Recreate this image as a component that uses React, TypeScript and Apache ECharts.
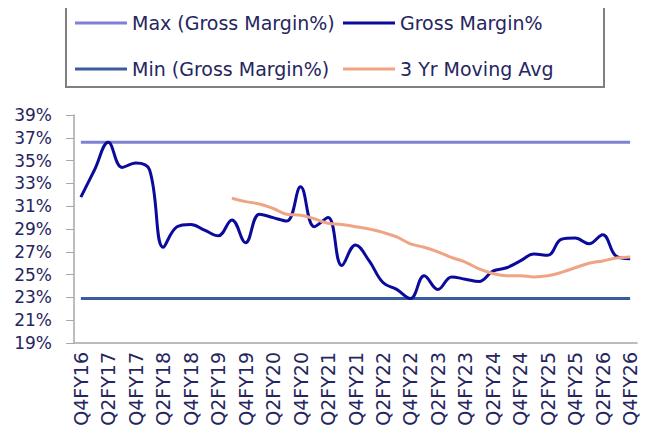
import React, { useEffect, useRef } from "react";
import * as echarts from "echarts";

const categories: string[] = [
  "Q4FY16", "Q1FY17", "Q2FY17", "Q3FY17", "Q4FY17",
  "Q1FY18", "Q2FY18", "Q3FY18", "Q4FY18",
  "Q1FY19", "Q2FY19", "Q3FY19", "Q4FY19",
  "Q1FY20", "Q2FY20", "Q3FY20", "Q4FY20",
  "Q1FY21", "Q2FY21", "Q3FY21", "Q4FY21",
  "Q1FY22", "Q2FY22", "Q3FY22", "Q4FY22",
  "Q1FY23", "Q2FY23", "Q3FY23", "Q4FY23",
  "Q1FY24", "Q2FY24", "Q3FY24", "Q4FY24",
  "Q1FY25", "Q2FY25", "Q3FY25", "Q4FY25",
  "Q1FY26", "Q2FY26", "Q3FY26", "Q4FY26",
];

const grossMargin: number[] = [
  31.8, 34.2, 36.6, 34.4, 34.8, 34.2, 27.4, 29.2, 29.4, 28.9,
  28.4, 29.8, 27.8, 30.3, 30.0, 29.7, 32.7, 29.2, 30.0, 25.8,
  27.6, 26.2, 24.3, 23.7, 22.9, 24.9, 23.7, 24.8, 24.6, 24.4,
  25.3, 25.6, 26.2, 26.8, 26.7, 28.1, 28.2, 27.7, 28.5, 26.6,
  26.4,
];

const movingAvg: (number | null)[] = [
  null, null, null, null, null, null, null, null, null, null,
  null, 31.7, 31.4, 31.2, 30.8, 30.3, 30.2, 29.9, 29.5, 29.4,
  29.2, 29.0, 28.7, 28.3, 27.7, 27.4, 27.0, 26.5, 26.1, 25.5,
  25.1, 24.9, 24.9, 24.8, 24.9, 25.2, 25.6, 26.0, 26.2, 26.45,
  26.55,
];

const MAX_GM = 36.6;
const MIN_GM = 22.9;

const yTicks = { min: 19, max: 39, interval: 2 };

const TEXT = "#26265e";
const AXIS = "#a6a6a6";
const FONT = "DejaVu Sans";

export default function App() {
  const ref = useRef<HTMLDivElement>(null);
  useEffect(() => {
    if (!ref.current) return;
    const chart = echarts.init(ref.current, undefined, { renderer: "svg" });
    const maxData = categories.map(() => MAX_GM);
    const minData = categories.map(() => MIN_GM);
    const legendText = { color: TEXT, fontSize: 19, fontFamily: FONT, lineHeight: 22 };
    const mkLegend = (name: string, left: number, top: number) => ({
      data: [name],
      left,
      top,
      padding: 0,
      itemWidth: 52,
      itemHeight: 3,
      itemGap: 0,
      icon: "rect",
      textStyle: legendText,
      selectedMode: false,
    });
    chart.setOption({
      animation: false,
      backgroundColor: "#ffffff",
      graphic: [
        {
          type: "rect",
          shape: { x: 66, y: 5, width: 538, height: 82 },
          style: { fill: "none", stroke: "#808080", lineWidth: 2 },
        },
      ],
      legend: [
        mkLegend("Max (Gross Margin%)", 75, 12),
        mkLegend("Gross Margin%", 343, 12),
        mkLegend("Min (Gross Margin%)", 75, 58),
        mkLegend("3 Yr Moving Avg", 343, 58),
      ],
      grid: { left: 74, right: 20, top: 115, bottom: 96 },
      xAxis: {
        type: "category",
        data: categories,
        boundaryGap: true,
        axisLine: { lineStyle: { color: AXIS, width: 1.5 } },
        axisTick: { interval: 0, length: 5, lineStyle: { color: AXIS } },
        axisLabel: {
          interval: 1,
          rotate: 90,
          margin: 9,
          hideOverlap: false,
          color: TEXT,
          fontSize: 19,
          fontFamily: FONT,
        },
        splitLine: { show: false },
      },
      yAxis: {
        type: "value",
        min: yTicks.min,
        max: yTicks.max,
        interval: yTicks.interval,
        axisLine: { show: true, lineStyle: { color: AXIS, width: 1.5 } },
        axisTick: { show: true, length: 8, lineStyle: { color: AXIS } },
        axisLabel: {
          formatter: "{value}%",
          margin: 22,
          color: TEXT,
          fontSize: 17,
          fontFamily: FONT,
        },
        splitLine: { show: false },
      },
      series: [
        {
          name: "Max (Gross Margin%)",
          type: "line",
          data: maxData,
          showSymbol: false,
          lineStyle: { color: "#7f82d4", width: 3 },
          itemStyle: { color: "#7f82d4" },
        },
        {
          name: "Min (Gross Margin%)",
          type: "line",
          data: minData,
          showSymbol: false,
          lineStyle: { color: "#3b5c9c", width: 3 },
          itemStyle: { color: "#3b5c9c" },
        },
        {
          name: "Gross Margin%",
          type: "line",
          data: grossMargin,
          smooth: 0.4,
          showSymbol: false,
          lineStyle: { color: "#0a0a9c", width: 3 },
          itemStyle: { color: "#0a0a9c" },
        },
        {
          name: "3 Yr Moving Avg",
          type: "line",
          data: movingAvg,
          smooth: 0.4,
          showSymbol: false,
          lineStyle: { color: "#efa584", width: 3 },
          itemStyle: { color: "#efa584" },
        },
      ],
    });
    return () => chart.dispose();
  }, []);
  return <div ref={ref} style={{ width: 657, height: 439, margin: -8 }} />;
}
